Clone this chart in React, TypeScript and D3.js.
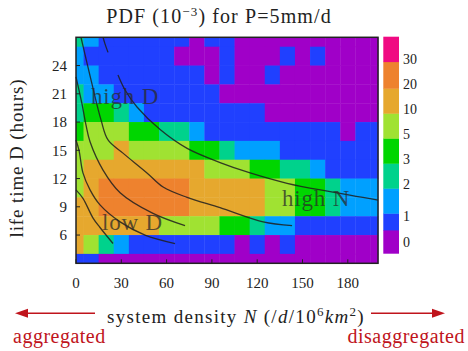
import React from "react";
import * as d3 from "d3";

// Cell centres: system density N (per day per 10^6 km^2) and life time D (hours)
const densityN = [0, 10, 20, 30, 40, 50, 60, 70, 80, 90, 100, 110, 120, 130, 140, 150, 160, 170, 180, 190, 200];
const lifetimeD = [27, 25, 23, 21, 19, 17, 15, 13, 11, 9, 7, 5, 3];

// PDF (10^-3) per cell, one array per life-time row, ordered by N
const pdfD27 = [2.5, 1.5, 0.5, 0.5, 0.5, 0.5, 0.5, 0.5, 0, 0.5, 0.5, 0, 0, 0, 0, 0, 0, 0, 0, 0, 0];
const pdfD25 = [1.5, 0.5, 0.5, 0.5, 0.5, 0.5, 0.5, 0, 0, 0, 0.5, 0, 0, 0, 0.5, 0, 0.5, 0, 0, 0, 0];
const pdfD23 = [1.5, 1.5, 0.5, 0.5, 0.5, 0.5, 0.5, 0.5, 0.5, 0, 0.5, 0, 0, 0.5, 0, 0, 0, 0, 0, 0, 0];
const pdfD21 = [2.5, 1.5, 1.5, 0.5, 0.5, 0.5, 0.5, 0.5, 0.5, 0.5, 0, 0, 0, 0, 0, 0, 0, 0, 0, 0, 0];
const pdfD19 = [2.5, 4, 4, 2.5, 1.5, 0.5, 0.5, 0.5, 0.5, 0.5, 0.5, 0.5, 0.5, 0, 0, 0, 0, 0, 0, 0, 0];
const pdfD17 = [4, 7, 7, 7, 4, 4, 2.5, 2.5, 1.5, 0.5, 0.5, 0.5, 0.5, 0.5, 0.5, 0.5, 0.5, 0.5, 0, 0.5, 0.5];
const pdfD15 = [7, 7, 7, 15, 7, 7, 7, 7, 4, 4, 2.5, 1.5, 1.5, 1.5, 0.5, 0.5, 0.5, 0.5, 0.5, 0.5, 0.5];
const pdfD13 = [7, 15, 15, 15, 15, 15, 15, 15, 15, 7, 7, 7, 4, 4, 2.5, 2.5, 1.5, 0.5, 0.5, 0.5, 0.5];
const pdfD11 = [7, 15, 25, 25, 25, 25, 25, 25, 15, 15, 15, 15, 15, 7, 7, 4, 4, 2.5, 1.5, 1.5, 1.5];
const pdfD9 = [15, 15, 25, 25, 25, 25, 25, 25, 15, 15, 15, 15, 15, 7, 7, 4, 4, 2.5, 1.5, 1.5, 1.5];
const pdfD7 = [15, 15, 15, 15, 15, 15, 7, 7, 7, 7, 4, 4, 2.5, 1.5, 1.5, 0.5, 0.5, 0.5, 0.5, 0.5, 0.5];
const pdfD5 = [15, 7, 2.5, 1.5, 0.5, 0.5, 0.5, 0.5, 0.5, 0.5, 0.5, 0, 0.5, 0, 0.5, 0, 0, 0, 0, 0, 0];
const pdfD3 = [0.5, 0.5, 0, 0, 0, 0, 0, 0, 0, 0, 0, 0, 0, 0, 0, 0, 0, 0, 0, 0, 0];
const pdfRows = [pdfD27, pdfD25, pdfD23, pdfD21, pdfD19, pdfD17, pdfD15, pdfD13, pdfD11, pdfD9, pdfD7, pdfD5, pdfD3];

// Axis ticks
const xTicks = [0, 30, 60, 90, 120, 150, 180];
const yTicks = [6, 9, 12, 15, 18, 21, 24];

// Colour levels (upper cut of each class) and their labels
const levelCuts = [0.05, 1, 2, 3, 5, 10, 20, 30];
const levelLabels = ["0", "1", "2", "3", "5", "10", "20", "30"];
const levelColors = ["#a000c8", "#2040ff", "#00a0ff", "#00d28c", "#00d600", "#a0e232", "#e6a82e", "#ee822e", "#f00a82"];

// Guide curves through the (N, D) plane
const curveTop = [[17.9, 27.0], [19.2, 26.3], [21.2, 25.4]];
const curveHighD = [[3.3, 27.0], [6.5, 24.8], [9.9, 22.5], [16.6, 18.2], [21.2, 16.1], [31.1, 14.7], [47.0, 12.6], [57.7, 11.1], [73.6, 10.0], [95.4, 8.9], [123.9, 7.4], [143.1, 7.0]];
const curveMid = [[0, 22.8], [4.0, 19.9], [6.6, 17.7], [9.3, 15.9], [17.9, 12.9], [29.2, 10.5], [51.0, 8.3], [72.2, 7.0]];
const curveLowA = [[0, 16.1], [2.0, 15.0], [4.6, 12.6], [9.3, 10.8], [15.9, 9.2], [29.2, 7.4], [45.7, 6.0], [65.6, 5.1]];
const curveLowB = [[0, 10.8], [4.6, 9.9], [11.3, 7.8], [15.9, 6.8], [24.5, 5.1]];
const curveHighN = [[27.8, 23.0], [32.5, 21.4], [40.4, 19.6], [55.7, 17.2], [73.6, 15.2], [95.4, 13.7], [115.3, 12.6], [139.8, 11.5], [168.3, 10.6], [200, 9.7]];
const guideCurves = [curveTop, curveHighD, curveMid, curveLowA, curveLowB, curveHighN];

const W = 468;
const H = 351;
const plot = { left: 76, right: 378, top: 37.3, bottom: 263.3 };
const bar = { left: 383.3, right: 399 };
const barEdges = [253.3, 230, 213.3, 188.3, 163.3, 138.3, 113.3, 88.3, 61.7, 36.7];
const barLabelY = [242, 216, 184, 159, 134, 109, 84, 59];

const serif = "'Liberation Serif', 'Times New Roman', serif";
const red = "#c0141c";

export default function App() {
  const x = d3.scaleLinear().domain([0, 200]).range([plot.left, plot.right]);
  const y = d3.scaleLinear().domain([3, 27]).range([plot.bottom, plot.top]);
  const color = d3.scaleThreshold<number, string>().domain(levelCuts).range(levelColors);
  const line = d3
    .line<number[]>()
    .x((d) => x(d[0]))
    .y((d) => y(d[1]))
    .curve(d3.curveCatmullRom.alpha(0.5));

  const cells: React.ReactNode[] = [];
  pdfRows.forEach((row, ri) => {
    const d = lifetimeD[ri];
    const y0 = y(Math.min(27, d + 1));
    const y1 = y(Math.max(3, d - 1));
    row.forEach((v, ci) => {
      const n = densityN[ci];
      const x0 = x(Math.max(0, n - 5));
      const x1 = x(Math.min(200, n + 5));
      cells.push(
        <rect key={`${ri}-${ci}`} x={x0} y={y0} width={x1 - x0 + 0.4} height={y1 - y0 + 0.4} fill={color(v)} />
      );
    });
  });

  const arrowHead = (tipX: number, cy: number, dir: number) =>
    `M${tipX},${cy} L${tipX - dir * 13},${cy - 4.5} L${tipX - dir * 13},${cy + 4.5} Z`;

  return (
    <svg
      width={W}
      height={H}
      viewBox={`0 0 ${W} ${H}`}
      style={{ position: "absolute", left: 0, top: 0, background: "#fff" }}
      fontFamily={serif}
    >
      {/* title */}
      <text x={219} y={23} textAnchor="middle" fontSize={20} fill="#222" letterSpacing={1.1}>
        PDF (10
        <tspan dy={-7} fontSize={13}>−3</tspan>
        <tspan dy={7}>) for P=5mm/d</tspan>
      </text>

      {/* heat map */}
      <g>{cells}</g>

      {/* guide curves */}
      <g fill="none" stroke="#1e1e1e" strokeWidth={1.3} strokeOpacity={0.85}>
        {guideCurves.map((c, i) => (
          <path key={i} d={line(c) ?? ""} />
        ))}
      </g>

      {/* region labels */}
      <g fontSize={23} fill="#2a2a2a" fillOpacity={0.75} letterSpacing={0.8}>
        <text x={91} y={104}>high D</text>
        <text x={102} y={230}>low D</text>
        <text x={282} y={206}>high N</text>
      </g>

      {/* frame and ticks */}
      <rect
        x={plot.left}
        y={plot.top}
        width={plot.right - plot.left}
        height={plot.bottom - plot.top}
        fill="none"
        stroke="#222"
        strokeWidth={1.5}
      />
      <g stroke="#222" strokeWidth={1}>
        {xTicks.map((t) => (
          <line key={t} x1={x(t)} x2={x(t)} y1={plot.bottom} y2={plot.bottom - 4} />
        ))}
        {yTicks.map((t) => (
          <line key={t} x1={plot.left} x2={plot.left + 4} y1={y(t)} y2={y(t)} />
        ))}
      </g>
      <g fontSize={15} fill="#222">
        {xTicks.map((t) => (
          <text key={t} x={x(t)} y={288} textAnchor="middle">{t}</text>
        ))}
        {yTicks.map((t) => (
          <text key={t} x={67} y={y(t)} dy="0.35em" textAnchor="end">{t}</text>
        ))}
      </g>

      {/* axis titles */}
      <text
        transform={`translate(23,158) rotate(-90)`}
        textAnchor="middle"
        fontSize={19}
        fill="#222"
        letterSpacing={0.9}
      >
        life time D (hours)
      </text>
      <text x={236} y={323} textAnchor="middle" fontSize={19} fill="#222" letterSpacing={1.3}>
        system density <tspan fontStyle="italic">N</tspan> (/<tspan fontStyle="italic">d</tspan>/10
        <tspan dy={-7} fontSize={13}>6</tspan>
        <tspan dy={7} fontStyle="italic">km</tspan>
        <tspan dy={-7} fontSize={13}>2</tspan>
        <tspan dy={7}>)</tspan>
      </text>

      {/* aggregation arrows */}
      <g stroke={red} strokeWidth={1.6} fill={red}>
        <line x1={95} x2={22} y1={313.3} y2={313.3} />
        <path d={arrowHead(15, 313.3, -1)} stroke="none" />
        <line x1={371} x2={438} y1={313.3} y2={313.3} />
        <path d={arrowHead(445, 313.3, 1)} stroke="none" />
      </g>
      <g fontSize={20} fill={red} letterSpacing={0.5}>
        <text x={13} y={343}>aggregated</text>
        <text x={465} y={343} textAnchor="end">disaggregated</text>
      </g>

      {/* colour bar */}
      <g>
        {levelColors.map((c, i) => (
          <rect
            key={c}
            x={bar.left}
            y={barEdges[i + 1]}
            width={bar.right - bar.left}
            height={barEdges[i] - barEdges[i + 1] + 0.4}
            fill={c}
          />
        ))}
      </g>
      <g fontSize={14} fill="#222">
        {levelLabels.map((l, i) => (
          <text key={l} x={403} y={barLabelY[i]} dy="0.35em">{l}</text>
        ))}
      </g>
    </svg>
  );
}
